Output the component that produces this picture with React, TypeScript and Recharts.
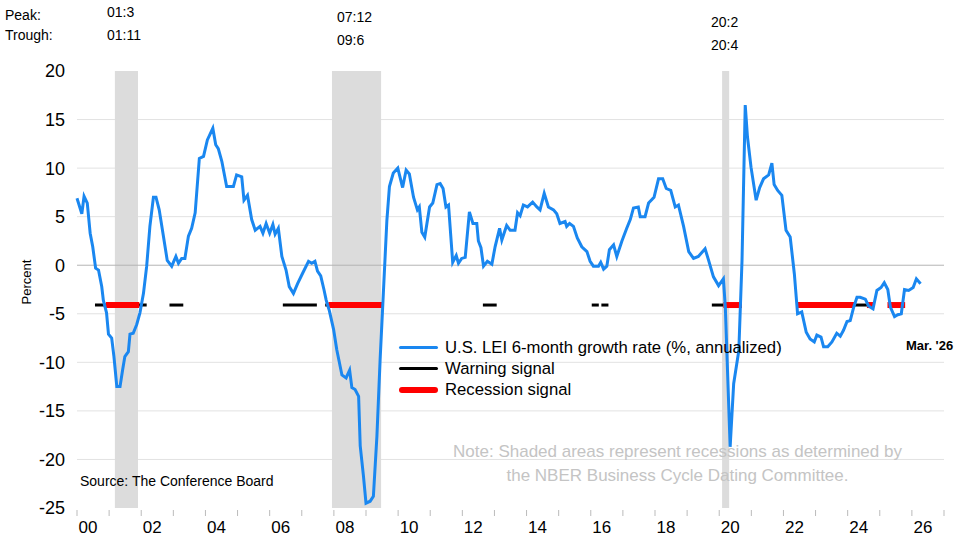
import { CartesianGrid, Line, LineChart, ReferenceArea, ReferenceLine, XAxis, YAxis } from "recharts";

const YEARS = [0, 0.15, 0.22, 0.32, 0.41, 0.49, 0.58, 0.67, 0.77, 0.82, 0.92, 0.98, 1.08, 1.15, 1.24, 1.34, 1.42, 1.49, 1.6, 1.65, 1.75, 1.86, 1.96, 2.07, 2.17, 2.27, 2.38, 2.46, 2.56, 2.69, 2.81, 2.95, 3.08, 3.16, 3.26, 3.36, 3.47, 3.57, 3.68, 3.81, 3.94, 4.06, 4.23, 4.32, 4.4, 4.51, 4.66, 4.87, 4.97, 5.13, 5.2, 5.31, 5.44, 5.55, 5.7, 5.79, 5.89, 6.0, 6.1, 6.17, 6.27, 6.38, 6.51, 6.61, 6.74, 6.87, 7.03, 7.21, 7.31, 7.41, 7.49, 7.59, 7.69, 7.76, 7.86, 7.99, 8.09, 8.25, 8.38, 8.49, 8.56, 8.66, 8.77, 8.82, 8.92, 9.0, 9.13, 9.23, 9.34, 9.44, 9.54, 9.65, 9.73, 9.85, 9.99, 10.14, 10.25, 10.35, 10.48, 10.6, 10.66, 10.74, 10.83, 10.98, 11.08, 11.21, 11.31, 11.4, 11.49, 11.57, 11.7, 11.81, 11.88, 11.98, 12.09, 12.22, 12.33, 12.45, 12.5, 12.58, 12.66, 12.78, 12.92, 13.02, 13.16, 13.23, 13.38, 13.49, 13.64, 13.72, 13.8, 13.9, 14.03, 14.19, 14.32, 14.42, 14.55, 14.68, 14.84, 14.94, 15.04, 15.2, 15.25, 15.34, 15.46, 15.58, 15.72, 15.88, 15.98, 16.08, 16.24, 16.31, 16.4, 16.5, 16.58, 16.71, 16.81, 16.97, 17.12, 17.23, 17.33, 17.48, 17.54, 17.69, 17.8, 17.97, 18.11, 18.24, 18.35, 18.49, 18.63, 18.73, 18.89, 19.05, 19.2, 19.35, 19.56, 19.67, 19.82, 19.98, 20.13, 20.19, 20.34, 20.45, 20.61, 20.71, 20.81, 20.88, 20.99, 21.15, 21.26, 21.38, 21.54, 21.64, 21.71, 21.82, 21.95, 22.08, 22.21, 22.34, 22.44, 22.57, 22.71, 22.83, 22.96, 23.04, 23.17, 23.25, 23.38, 23.51, 23.66, 23.77, 23.87, 23.98, 24.08, 24.19, 24.29, 24.39, 24.55, 24.65, 24.79, 24.91, 25.04, 25.14, 25.25, 25.33, 25.46, 25.56, 25.67, 25.77, 25.9, 26.04, 26.14, 26.27];
const LEI = [6.9, 5.3, 7.1, 6.4, 3.3, 1.9, -0.3, -0.5, -2.2, -3.6, -4.9, -7.1, -7.5, -9.4, -12.5, -12.5, -10.8, -9.4, -8.9, -7.1, -7.0, -6.1, -4.9, -2.9, -0.1, 4.0, 7.0, 7.0, 5.7, 3.0, 0.5, -0.1, 0.9, 0.2, 0.7, 0.7, 3.0, 3.8, 5.4, 11.0, 11.2, 12.9, 14.1, 12.4, 12.0, 10.7, 8.1, 8.1, 9.3, 9.1, 6.7, 7.2, 4.7, 3.6, 4.0, 3.3, 4.3, 3.3, 4.2, 3.2, 3.8, 0.9, -0.5, -2.2, -2.9, -1.9, -0.8, 0.4, 0.2, 0.4, -0.6, -1.1, -2.5, -3.6, -4.7, -6.6, -8.7, -11.3, -11.6, -10.8, -12.6, -12.8, -13.5, -18.6, -21.7, -24.5, -24.3, -23.8, -17.6, -9.7, -2.9, 4.6, 8.1, 9.5, 10.0, 8.0, 9.8, 9.4, 7.0, 5.7, 6.0, 3.4, 2.9, 6.0, 6.4, 8.3, 8.4, 7.9, 6.0, 6.2, 0.3, 1.0, 0.2, 0.7, 0.8, 5.5, 4.3, 4.3, 2.5, 1.8, -0.1, 0.4, 0.1, 1.9, 3.8, 2.6, 4.1, 3.6, 3.6, 5.4, 5.1, 6.2, 6.0, 6.5, 6.0, 5.7, 7.4, 6.0, 5.7, 5.3, 4.3, 4.5, 4.0, 4.3, 4.0, 2.8, 1.9, 1.4, 0.4, -0.1, -0.1, 0.3, -0.4, -0.1, 1.6, 2.1, 0.9, 2.5, 3.8, 4.7, 5.9, 6.0, 5.0, 5.0, 6.4, 7.0, 8.9, 8.9, 7.9, 7.7, 6.0, 6.2, 4.0, 1.4, 0.7, 0.9, 1.7, 0.5, -1.2, -2.1, -1.4, -4.3, -18.7, -12.2, -8.8, 0.5, 16.5, 13.2, 10.1, 6.7, 8.0, 8.9, 9.3, 10.5, 8.3, 7.7, 7.2, 3.6, 2.9, -0.9, -5.0, -4.8, -6.9, -7.6, -7.9, -7.2, -7.4, -8.4, -8.4, -7.9, -7.0, -7.3, -6.7, -5.8, -5.7, -4.3, -3.3, -3.3, -3.5, -4.2, -4.5, -2.6, -2.3, -1.8, -2.5, -4.3, -5.3, -5.1, -5.0, -2.5, -2.6, -2.3, -1.4, -1.9];

const RECESSIONS = [[2001.18, 2001.9], [2007.94, 2009.47], [2020.09, 2020.31]];
const SIGNAL_LEVEL = -4.1;
const WARNING = [[2000.56, 2002.17], [2002.88, 2003.31], [2006.41, 2007.47], [2007.73, 2007.85], [2012.64, 2013.07], [2016.03, 2016.25], [2016.33, 2016.55], [2019.77, 2020.13], [2024.21, 2024.6]];
const RECESSION_SIGNAL = [[2000.9, 2001.94], [2007.83, 2009.54], [2020.13, 2020.71], [2022.4, 2024.21], [2024.6, 2024.81], [2025.24, 2025.79]];
const Y_TICKS = [-25, -20, -15, -10, -5, 0, 5, 10, 15, 20];
const X_TICKS = Array.from({ length: 28 }, (_, i) => 2000 + i);

const data = YEARS.map((y, i) => ({ x: 2000 + y, v: LEI[i] }));

function XTick({ x, y, payload }: any) {
  const yr = payload.value as number;
  return (
    <g>
      <line x1={x} x2={x} y1={y - 6} y2={y} stroke="#bbb" />
      {yr % 2 === 0 && yr < 2027 ? (
        <text x={x + 11} y={y + 17} textAnchor="middle" fontSize={17} fill="#000">
          {String(yr % 100).padStart(2, "0")}
        </text>
      ) : null}
    </g>
  );
}

const txt: React.CSSProperties = { position: "absolute", whiteSpace: "nowrap", lineHeight: 1 };

export default function App() {
  return (
    <div style={{ position: "relative", width: 961, height: 537, fontFamily: "Arial, 'Liberation Sans', sans-serif", background: "#fff" }}>
      <style>{"body{margin:0}"}</style>
      <LineChart width={961} height={537} data={data} margin={{ top: 71, right: 17, left: 0, bottom: 0 }}>
        {RECESSIONS.map(([a, b], i) => (
          <ReferenceArea key={i} x1={a} x2={b} fill="#dcdcdc" fillOpacity={1} stroke="none" />
        ))}
        <CartesianGrid vertical={false} stroke="#e2e2e2" horizontalValues={[-20, -15, -10, -5, 5, 10, 15]} />
        <ReferenceLine y={0} stroke="#b5b5b5" />
        <XAxis dataKey="x" type="number" domain={[2000, 2027]} ticks={X_TICKS} interval={0} height={29} axisLine={false} tickLine={false} tick={<XTick />} />
        <YAxis type="number" domain={[-25, 20]} ticks={Y_TICKS} width={77} axisLine={false} tickLine={false} tick={{ fill: "#000", fontSize: 18 }} tickMargin={6} />
        {WARNING.map(([a, b], i) => (
          <ReferenceLine key={"w" + i} segment={[{ x: a, y: SIGNAL_LEVEL }, { x: b, y: SIGNAL_LEVEL }]} stroke="#000" strokeWidth={3} />
        ))}
        {RECESSION_SIGNAL.map(([a, b], i) => (
          <ReferenceLine key={"r" + i} segment={[{ x: a, y: SIGNAL_LEVEL }, { x: b, y: SIGNAL_LEVEL }]} stroke="#ff0000" strokeWidth={6} />
        ))}
        <Line dataKey="v" stroke="#1a87f0" strokeWidth={3} dot={false} isAnimationActive={false} type="linear" />
      </LineChart>

      <div style={{ ...txt, left: 5, top: 8, fontSize: 14 }}>Peak:</div>
      <div style={{ ...txt, left: 5, top: 28, fontSize: 14 }}>Trough:</div>
      <div style={{ ...txt, left: 107, top: 5, fontSize: 14 }}>01:3</div>
      <div style={{ ...txt, left: 107, top: 28, fontSize: 14 }}>01:11</div>
      <div style={{ ...txt, left: 337, top: 10, fontSize: 14 }}>07:12</div>
      <div style={{ ...txt, left: 337, top: 33, fontSize: 14 }}>09:6</div>
      <div style={{ ...txt, left: 711, top: 15, fontSize: 14 }}>20:2</div>
      <div style={{ ...txt, left: 711, top: 38, fontSize: 14 }}>20:4</div>

      <div style={{ ...txt, left: 4, top: 265, fontSize: 13, transform: "translate(0,-50%) rotate(-90deg)", transformOrigin: "center" }}>
        <span style={{ display: "inline-block", transform: "translateX(-17px)" }}>Percent</span>
      </div>

      <div style={{ position: "absolute", left: 399, top: 337, fontSize: 16.7 }}>
        {[
          ["#1a87f0", 3, "U.S. LEI 6-month growth rate (%, annualized)"],
          ["#000", 3, "Warning signal"],
          ["#ff0000", 6, "Recession signal"],
        ].map(([c, w, t], i) => (
          <div key={i} style={{ display: "flex", alignItems: "center", height: 21 }}>
            <div style={{ width: 39, height: w as number, background: c as string, borderRadius: 3, marginRight: 7 }} />
            <span>{t}</span>
          </div>
        ))}
      </div>

      <div style={{ ...txt, left: 906, top: 339, fontSize: 13, fontWeight: "bold" }}>Mar. '26</div>
      <div style={{ ...txt, left: 80, top: 474, fontSize: 14 }}>Source: The Conference Board</div>
      <div style={{ position: "absolute", left: 420, width: 515, top: 440, fontSize: 17, color: "#c4c4c4", textAlign: "center", lineHeight: "24px" }}>
        Note: Shaded areas represent recessions as determined by
        <br />
        the NBER Business Cycle Dating Committee.
      </div>
    </div>
  );
}
